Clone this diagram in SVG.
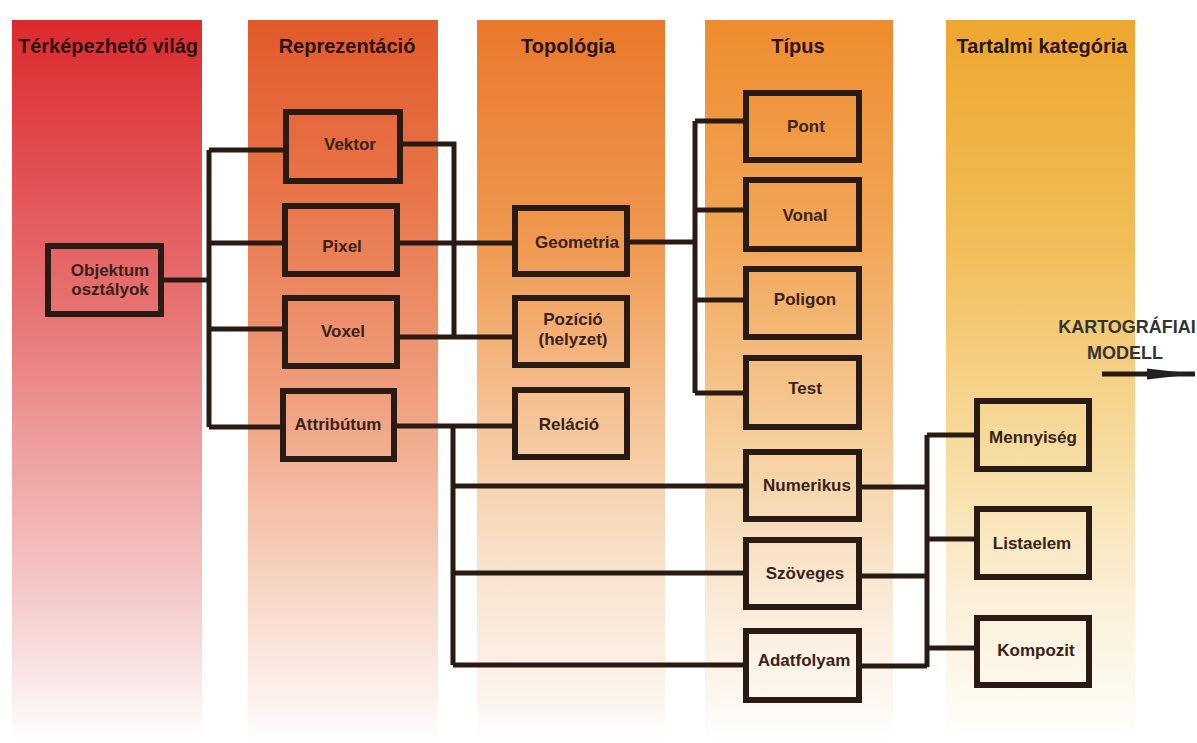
<svg xmlns="http://www.w3.org/2000/svg" width="1197" height="743" viewBox="0 0 1197 743">
<style>
.title{font-family:"Liberation Sans",Arial,sans-serif;font-weight:bold;font-size:20px;fill:#2b1410;text-anchor:middle}
.box{fill:none;stroke:#2a1a14;stroke-width:6}
.lbl{font-family:"Liberation Sans",Arial,sans-serif;font-weight:bold;font-size:17px;fill:#3a2218;text-anchor:middle}
.conn{fill:none;stroke:#2a1a14;stroke-width:5}
.side{font-family:"Liberation Sans",Arial,sans-serif;font-weight:bold;font-size:18px;fill:#333;text-anchor:middle}
</style>
<defs>
<linearGradient id="g1" x1="0" y1="0" x2="0" y2="1">
<stop offset="0" stop-color="#dc2a2e"/><stop offset="0.39" stop-color="#e77070"/><stop offset="0.6" stop-color="#efa0a0"/><stop offset="0.81" stop-color="#f5cccc"/><stop offset="0.95" stop-color="#fcf0f0"/><stop offset="1" stop-color="#ffffff"/>
</linearGradient>
<linearGradient id="g2" x1="0" y1="0" x2="0" y2="1">
<stop offset="0" stop-color="#e25a2a"/><stop offset="0.25" stop-color="#e8764a"/><stop offset="0.53" stop-color="#f0a080"/><stop offset="0.74" stop-color="#f6cdb8"/><stop offset="0.95" stop-color="#fdf2ee"/><stop offset="1" stop-color="#ffffff"/>
</linearGradient>
<linearGradient id="g3" x1="0" y1="0" x2="0" y2="1">
<stop offset="0" stop-color="#e9782a"/><stop offset="0.32" stop-color="#f09a52"/><stop offset="0.53" stop-color="#f5c090"/><stop offset="0.74" stop-color="#f8e0c8"/><stop offset="0.95" stop-color="#fdf5ee"/><stop offset="1" stop-color="#ffffff"/>
</linearGradient>
<linearGradient id="g4" x1="0" y1="0" x2="0" y2="1">
<stop offset="0" stop-color="#ee8c2e"/><stop offset="0.32" stop-color="#f2a85a"/><stop offset="0.6" stop-color="#f6d0a0"/><stop offset="0.81" stop-color="#faebd8"/><stop offset="0.97" stop-color="#fefaf5"/><stop offset="1" stop-color="#ffffff"/>
</linearGradient>
<linearGradient id="g5" x1="0" y1="0" x2="0" y2="1">
<stop offset="0" stop-color="#eea62e"/><stop offset="0.32" stop-color="#f2be5a"/><stop offset="0.6" stop-color="#f7dca0"/><stop offset="0.81" stop-color="#fbf0d8"/><stop offset="0.97" stop-color="#fffcf6"/><stop offset="1" stop-color="#ffffff"/>
</linearGradient>
<marker id="arr" markerUnits="userSpaceOnUse" markerWidth="50" markerHeight="14" refX="48" refY="7" orient="auto">
<path d="M0,1.5 L48,7 L0,12.5 Z" fill="#222"/>
</marker>
</defs>
<rect width="1197" height="743" fill="#ffffff"/>
<g id="bands">
<rect x="12" y="20" width="190" height="720" fill="url(#g1)"/>
<rect x="248" y="20" width="190" height="720" fill="url(#g2)"/>
<rect x="477" y="20" width="188" height="720" fill="url(#g3)"/>
<rect x="705" y="20" width="188" height="720" fill="url(#g4)"/>
<rect x="946" y="20" width="189" height="720" fill="url(#g5)"/>
</g>
<g id="titles">
<text class="title" x="108" y="53">Térképezhető világ</text>
<text class="title" x="347" y="53">Reprezentáció</text>
<text class="title" x="568" y="53">Topológia</text>
<text class="title" x="798" y="53">Típus</text>
<text class="title" x="1042" y="53">Tartalmi kategória</text>
</g>
<g id="connectors">
<path class="conn" d="M164,280 H209 M209,150 V427 M209,150 H284 M209,243 H283 M209,329 H283 M209,427 H281"/>
<path class="conn" d="M402,144 H454 V337"/>
<path class="conn" d="M399,243 H513"/>
<path class="conn" d="M399,337 H513"/>
<path class="conn" d="M396,426 H513"/>
<path class="conn" d="M453,426 V665 M453,486 H744 M453,573 H744 M453,665 H744"/>
<path class="conn" d="M629,242 H695 M695,121 V393 M695,121 H744 M695,210 H744 M695,300 H744 M695,393 H744"/>
<path class="conn" d="M861,487 H927 M861,576 H927 M861,666 H927 M927,435 V667 M927,435 H975 M927,539 H975 M927,648 H975"/>
<path class="conn" d="M1102,374 H1195" stroke="#222" marker-end="url(#arr)"/>
</g>
<g id="n-objektum"><rect class="box" x="48" y="246" width="113" height="68"/><text class="lbl" x="110" y="276">Objektum</text><text class="lbl" x="110" y="295">osztályok</text></g>
<g id="n-vektor"><rect class="box" x="286" y="112" width="114" height="69"/><text class="lbl" x="350" y="150">Vektor</text></g>
<g id="n-pixel"><rect class="box" x="285" y="206" width="112" height="68"/><text class="lbl" x="342" y="252">Pixel</text></g>
<g id="n-voxel"><rect class="box" x="285" y="298" width="112" height="68"/><text class="lbl" x="343" y="337">Voxel</text></g>
<g id="n-attributum"><rect class="box" x="283" y="391" width="111" height="68"/><text class="lbl" x="338" y="430">Attribútum</text></g>
<g id="n-geometria"><rect class="box" x="515" y="208" width="112" height="66"/><text class="lbl" x="577" y="248">Geometria</text></g>
<g id="n-pozicio"><rect class="box" x="515" y="298" width="112" height="67"/><text class="lbl" x="573" y="325">Pozíció</text><text class="lbl" x="573" y="345">(helyzet)</text></g>
<g id="n-relacio"><rect class="box" x="515" y="390" width="112" height="67"/><text class="lbl" x="569" y="430">Reláció</text></g>
<g id="n-pont"><rect class="box" x="746" y="93" width="113" height="67"/><text class="lbl" x="806" y="132">Pont</text></g>
<g id="n-vonal"><rect class="box" x="746" y="180" width="113" height="69"/><text class="lbl" x="805" y="221">Vonal</text></g>
<g id="n-poligon"><rect class="box" x="746" y="269" width="113" height="68"/><text class="lbl" x="805" y="305">Poligon</text></g>
<g id="n-test"><rect class="box" x="746" y="358" width="113" height="69"/><text class="lbl" x="805" y="394">Test</text></g>
<g id="n-numerikus"><rect class="box" x="746" y="452" width="113" height="67"/><text class="lbl" x="807" y="491">Numerikus</text></g>
<g id="n-szoveges"><rect class="box" x="746" y="540" width="113" height="67"/><text class="lbl" x="805" y="579">Szöveges</text></g>
<g id="n-adatfolyam"><rect class="box" x="746" y="631" width="113" height="69"/><text class="lbl" x="804" y="666">Adatfolyam</text></g>
<g id="n-mennyiseg"><rect class="box" x="977" y="401" width="112" height="68"/><text class="lbl" x="1033" y="443">Mennyiség</text></g>
<g id="n-listaelem"><rect class="box" x="977" y="509" width="112" height="68"/><text class="lbl" x="1032" y="549">Listaelem</text></g>
<g id="n-kompozit"><rect class="box" x="977" y="618" width="112" height="67"/><text class="lbl" x="1036" y="656">Kompozit</text></g>
<g id="n-kartografiai"><text class="side" x="1127" y="333">KARTOGRÁFIAI</text><text class="side" x="1125" y="359">MODELL</text></g>
</svg>
